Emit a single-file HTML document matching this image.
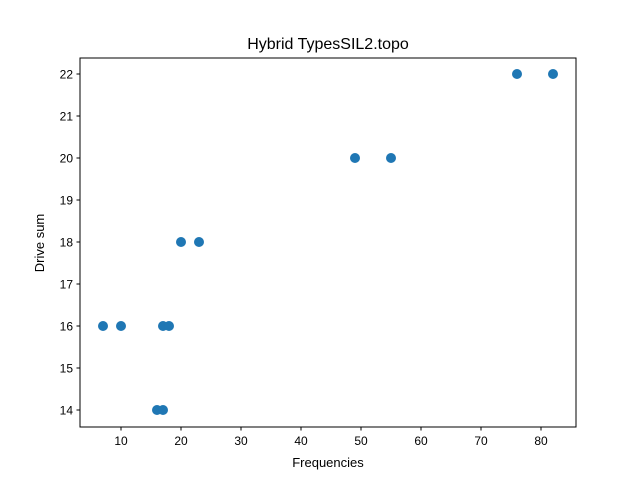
<!DOCTYPE html>
<html><head><meta charset="utf-8"><style>
body{margin:0;background:#fff;}
svg{display:block;font-family:"Liberation Sans","DejaVu Sans",sans-serif;}
</style></head><body>
<svg id="chart" width="640" height="480">
<rect width="640" height="480" fill="#fff"/>
<text x="328" y="49" font-size="16" text-anchor="middle">Hybrid TypesSIL2.topo</text>
<text x="328" y="467" font-size="13" text-anchor="middle">Frequencies</text>
<text transform="translate(44,243) rotate(-90)" font-size="13" text-anchor="middle">Drive sum</text>
<g id="xticks"></g>
<g id="yticks"></g>
<g id="points"></g>
<rect x="80" y="58" width="496" height="369" fill="none" stroke="#000" stroke-width="1"/>
</svg>
<script>
const xValues = [7, 10, 17, 18, 16, 17, 20, 23, 49, 55, 76, 82];
const yValues = [16, 16, 16, 16, 14, 14, 18, 18, 20, 20, 22, 22];
const xTickLabels = [10, 20, 30, 40, 50, 60, 70, 80];
const yTickLabels = [14, 15, 16, 17, 18, 19, 20, 21, 22];
const NS = "http://www.w3.org/2000/svg";
function xs(v){ return 61 + v * 6; }
function ys(v){ return 410 - (v - 14) * 42; }
function mk(tag, attrs, parent){
  const e = document.createElementNS(NS, tag);
  for (const k in attrs) e.setAttribute(k, attrs[k]);
  parent.appendChild(e);
  return e;
}
const xg = document.getElementById('xticks');
xTickLabels.forEach(v => {
  const x = xs(v);
  const l = mk('line', {x1:x, x2:x, y1:427, y2:430.5, stroke:'#000'}, xg);
  
  
  const t = mk('text', {x:x, y:445, 'font-size':12, 'text-anchor':'middle'}, xg);
  t.textContent = v;
  
  
});
const yg = document.getElementById('yticks');
yTickLabels.forEach(v => {
  const y = ys(v);
  const l = mk('line', {x1:76.5, x2:80, y1:y, y2:y, stroke:'#000'}, yg);
  
  
  const t = mk('text', {x:73, y:y + 4.5, 'font-size':12, 'text-anchor':'end'}, yg);
  t.textContent = v;
  
  
});
const pg = document.getElementById('points');
xValues.forEach((v, i) => {
  const c = mk('circle', {cx:xs(v), cy:ys(yValues[i]), r:5, fill:'#1f77b4'}, pg);
  
  
});
</script>
</body></html>
